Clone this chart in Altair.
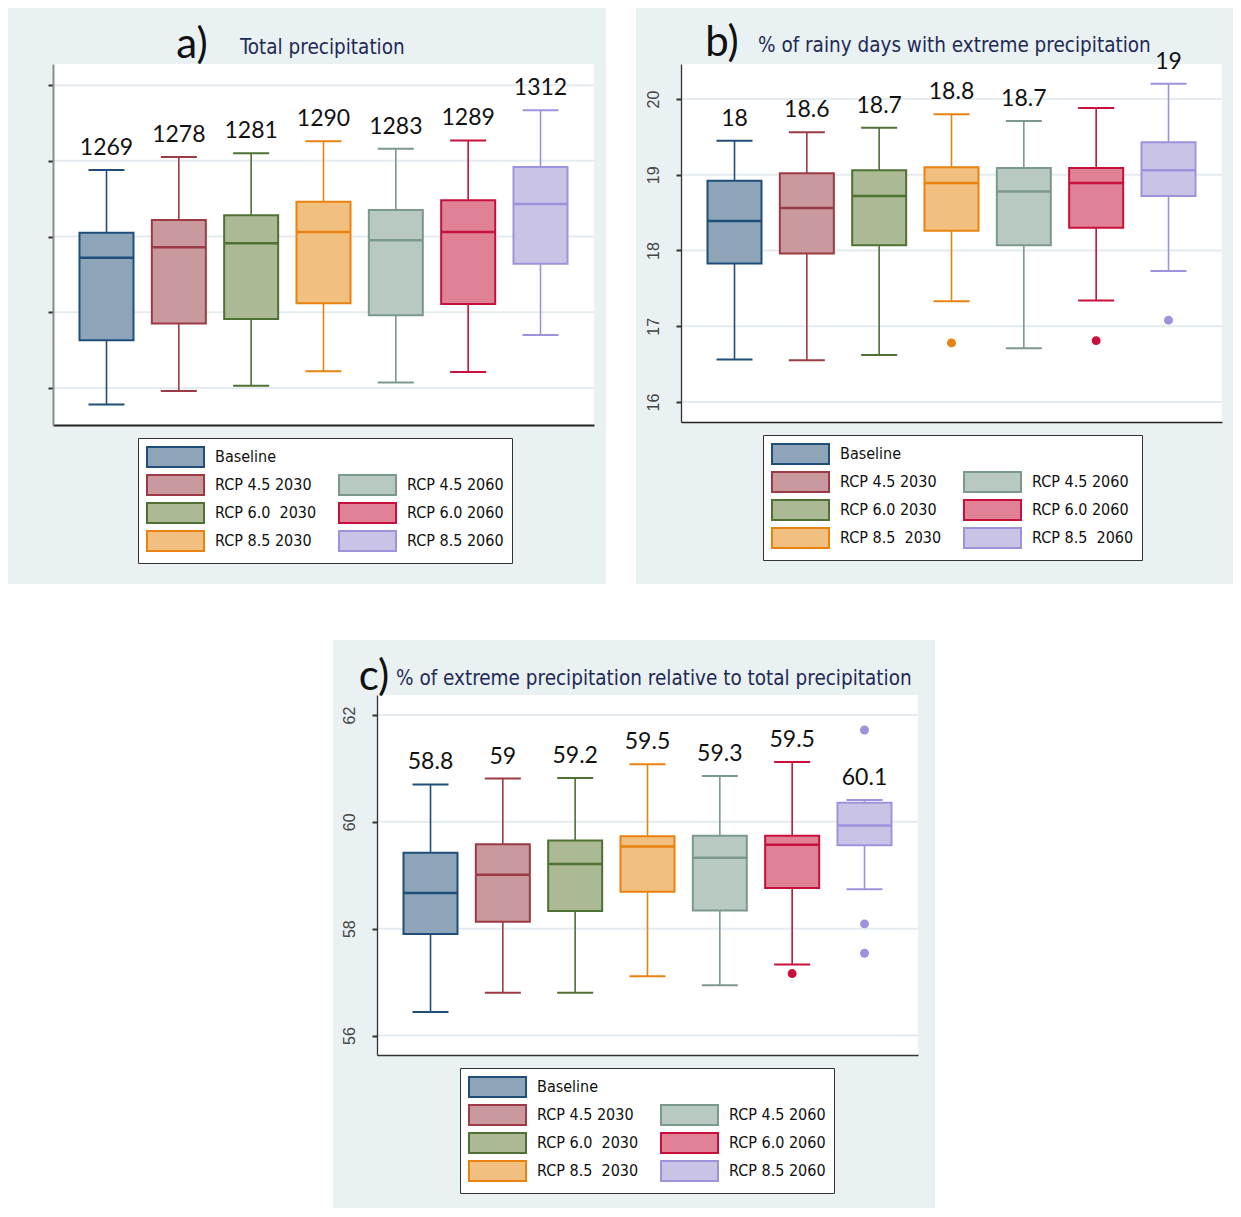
import altair as alt
import pandas as pd

# ---------------- data ----------------
CATEGORIES = ["Baseline", "RCP 4.5 2030", "RCP 6.0 2030", "RCP 8.5 2030",
              "RCP 4.5 2060", "RCP 6.0 2060", "RCP 8.5 2060"]
FILLS = ["#8da4b9", "#c9999d", "#abba94", "#f1bf80", "#b8c9c1", "#e18196", "#c9c4e6"]
STROKES = ["#1f4e79", "#9c3b45", "#4f7133", "#e9820e", "#7c998d", "#c8103c", "#9d93dc"]
# legend order (two columns, filled column by column; None = empty slot)
LEGEND_ORDER = [0, 1, 2, 3, None, 4, 5, 6]

NB = "\u00a0"
A_KEYS = ["Baseline", "RCP 4.5 2030", "RCP 6.0" + NB + " 2030", "RCP 8.5 2030",
          "RCP 4.5 2060", "RCP 6.0 2060", "RCP 8.5 2060"]
B_KEYS = ["Baseline", "RCP 4.5 2030", "RCP 6.0 2030", "RCP 8.5" + NB + " 2030",
          "RCP 4.5 2060", "RCP 6.0 2060", "RCP 8.5" + NB + " 2060"]
C_KEYS = ["Baseline", "RCP 4.5 2030", "RCP 6.0" + NB + " 2030", "RCP 8.5" + NB + " 2030",
          "RCP 4.5 2060", "RCP 6.0 2060", "RCP 8.5 2060"]

# a) Total precipitation
A_LO = [1078, 1096, 1103, 1122, 1107, 1121, 1170]
A_Q1 = [1163, 1185, 1191, 1212, 1196, 1211, 1264]
A_MED = [1272, 1286, 1291, 1306, 1295, 1306, 1343]
A_Q3 = [1305, 1322, 1328, 1346, 1335, 1348, 1392]
A_HI = [1388, 1405, 1410, 1426, 1416, 1427, 1467]
A_MEAN = ["1269", "1278", "1281", "1290", "1283", "1289", "1312"]
A_OUT_IDX = []
A_OUT_VAL = []
A_TICKS = [1100, 1200, 1300, 1400, 1500]

# b) % of rainy days with extreme precipitation
B_LO = [16.56, 16.55, 16.62, 17.33, 16.71, 17.34, 17.73]
B_Q1 = [17.83, 17.96, 18.07, 18.26, 18.07, 18.30, 18.72]
B_MED = [18.39, 18.56, 18.72, 18.89, 18.78, 18.89, 19.06]
B_Q3 = [18.92, 19.02, 19.06, 19.10, 19.09, 19.09, 19.43]
B_HI = [19.45, 19.56, 19.62, 19.80, 19.71, 19.88, 20.20]
B_MEAN = ["18", "18.6", "18.7", "18.8", "18.7", "", "19"]
B_OUT_IDX = [3, 5, 6]
B_OUT_VAL = [16.78, 16.81, 17.08]
B_TICKS = [16, 17, 18, 19, 20]

# c) % of extreme precipitation relative to total precipitation
C_LO = [56.44, 56.80, 56.80, 57.11, 56.94, 57.33, 58.74]
C_Q1 = [57.90, 58.13, 58.33, 58.69, 58.34, 58.76, 59.56]
C_MED = [58.67, 59.01, 59.21, 59.54, 59.33, 59.57, 59.93]
C_Q3 = [59.42, 59.58, 59.65, 59.73, 59.74, 59.74, 60.36]
C_HI = [60.70, 60.81, 60.82, 61.08, 60.86, 61.12, 60.41]
C_MEAN = ["58.8", "59", "59.2", "59.5", "59.3", "59.5", "60.1"]
C_OUT_IDX = [5, 6, 6, 6]
C_OUT_VAL = [57.16, 61.72, 58.09, 57.54]
C_TICKS = [56, 58, 60, 62]

# ---------------- style ----------------
BG = "#e9f1f3"
GRID = "#e4ecef"
TITLE_COLOR = "#1f2a55"
FONT_NARROW = "Liberation Sans Narrow, DejaVu Sans Condensed, Arial Narrow, sans-serif"
FONT_NUM = "Lato, Open Sans, sans-serif"
FONT_AXIS = "Liberation Sans, Arial, sans-serif"
PW = 541
LEGEND_PATH = "M-1,-1H4.7V1H-1Z"


def panel(keys, lo, q1, med, q3, hi, means, out_idx, out_val, ticks, domain,
          height, show_labels, ydom_color, ydom_width, xdom_color, xdom_width,
          bg_box, letter, letter_xy, text, text_xy, legend_xy):
    df = pd.DataFrame({"key": keys, "lo": lo, "q1": q1, "med": med,
                       "q3": q3, "hi": hi, "mean": means})
    out_df = pd.DataFrame({"key": [keys[i] for i in out_idx], "val": out_val})
    grid_df = pd.DataFrame({"tick": ticks})
    one = pd.DataFrame({"a": [0]})

    yscale = alt.Scale(domain=domain, nice=False, zero=False)
    yaxis = alt.Axis(values=ticks, grid=False, labels=show_labels, ticks=True,
                     tickSize=5, tickWidth=2, tickColor="#333",
                     domainColor=ydom_color, domainWidth=ydom_width,
                     labelAngle=270, labelAlign="center", labelBaseline="alphabetic",
                     labelPadding=18, labelFont=FONT_AXIS, labelFontSize=16,
                     labelColor="#444", title=None, zindex=1)
    xscale = alt.Scale(type="point", domain=keys, padding=0.7396)
    xaxis = alt.Axis(labels=False, ticks=False, grid=False, domainColor=xdom_color,
                     domainWidth=xdom_width, title=None, zindex=1)

    def Y(f):
        return alt.Y(f, type="quantitative", scale=yscale, axis=yaxis, title=None)

    def X():
        return alt.X("key:N", scale=xscale, axis=xaxis, title=None)

    color = alt.Color("key:N", scale=alt.Scale(domain=keys, range=STROKES), legend=None)

    leg_domain = [keys[i] if i is not None else " " for i in LEGEND_ORDER]
    fill_range = [FILLS[i] if i is not None else "transparent" for i in LEGEND_ORDER]
    stroke_range = [STROKES[i] if i is not None else "transparent" for i in LEGEND_ORDER]
    legend = alt.Legend(orient="none", legendX=legend_xy[0], legendY=legend_xy[1],
                        columns=2, direction="vertical", title=None,
                        symbolType=LEGEND_PATH, symbolSize=400, symbolStrokeWidth=2,
                        symbolOpacity=1, labelFont=FONT_NARROW, labelFontSize=16,
                        labelColor="#111", labelOffset=47, labelLimit=0,
                        rowPadding=0, columnPadding=18, padding=8,
                        strokeColor="#333", fillColor="white")

    x0, x1, y0, y1 = bg_box
    layers = []
    layers.append(alt.Chart(one).mark_rect(color=BG).encode(
        x=alt.value(x0), x2=alt.value(x1), y=alt.value(y0), y2=alt.value(y1)))
    layers.append(alt.Chart(one).mark_rect(color="white").encode(
        x=alt.value(0), x2=alt.value(PW), y=alt.value(0), y2=alt.value(height)))
    layers.append(alt.Chart(grid_df).mark_rule(color=GRID, strokeWidth=2).encode(
        x=alt.value(0), x2=alt.value(PW), y=Y("tick")))
    base = alt.Chart(df)
    layers.append(base.mark_rule(strokeWidth=1.6).encode(
        x=X(), y=Y("lo"), y2="hi", color=color))
    layers.append(base.mark_bar(size=54, strokeWidth=2).encode(
        x=X(), y=Y("q1"), y2="q3",
        fill=alt.Fill("key:N", scale=alt.Scale(domain=leg_domain, range=fill_range), legend=legend),
        stroke=alt.Stroke("key:N", scale=alt.Scale(domain=leg_domain, range=stroke_range), legend=legend)))
    layers.append(base.mark_tick(size=54, thickness=2.5, opacity=1).encode(
        x=X(), y=Y("med"), color=color))
    layers.append(base.mark_tick(size=36, thickness=2, opacity=1).encode(
        x=X(), y=Y("lo"), color=color))
    layers.append(base.mark_tick(size=36, thickness=2, opacity=1).encode(
        x=X(), y=Y("hi"), color=color))
    if len(out_val):
        layers.append(alt.Chart(out_df).mark_circle(size=80, opacity=1).encode(
            x=X(), y=Y("val"), color=color))
    layers.append(base.mark_text(dy=-22, fontSize=23, font=FONT_NUM, color="#111",
                                 baseline="middle", align="center").encode(
        x=X(), y=Y("hi"), text="mean:N"))
    layers.append(alt.Chart(one).mark_text(fontSize=42, font=FONT_NUM, color="#111",
                                           align="center", baseline="alphabetic").encode(
        x=alt.value(letter_xy[0]), y=alt.value(letter_xy[1]), text=alt.value(letter)))
    layers.append(alt.Chart(one).mark_text(fontSize=20.5, font=FONT_NARROW, color=TITLE_COLOR,
                                           align="left", baseline="alphabetic").encode(
        x=alt.value(text_xy[0]), y=alt.value(text_xy[1]), text=alt.value(text)))
    return alt.layer(*layers).properties(width=PW, height=height)


pa = panel(A_KEYS, A_LO, A_Q1, A_MED, A_Q3, A_HI, A_MEAN, A_OUT_IDX, A_OUT_VAL,
           A_TICKS, [1051, 1528], 361, False, "#8c8c8c", 2, "#222", 2,
           (-45, 553, -56, 520), "a)", (139, -6), "Total precipitation", (187, -10),
           (85, 374))
pb = panel(B_KEYS, B_LO, B_Q1, B_MED, B_Q3, B_HI, B_MEAN, B_OUT_IDX, B_OUT_VAL,
           B_TICKS, [15.736, 20.462], 358, True, "#333", 1.3, "#222", 1.5,
           (-45, 552, -56, 520), "b)", (41, -8), "% of rainy days with extreme precipitation",
           (77, -12), (82, 371))
pc = panel(C_KEYS, C_LO, C_Q1, C_MED, C_Q3, C_HI, C_MEAN, C_OUT_IDX, C_OUT_VAL,
           C_TICKS, [55.635, 62.375], 360, True, "#333", 1.3, "#333", 1.5,
           (-44, 558, -55, 513), "c)", (-3, -5),
           "% of extreme precipitation relative to total precipitation", (19, -10),
           (83, 373))

# blank white spacer that places panel c a little right of centre, as in the original
SPACER_W = 280
spacer = alt.Chart(pd.DataFrame({"a": [0]})).mark_rect(color="white").encode(
    x=alt.value(0), x2=alt.value(SPACER_W), y=alt.value(0), y2=alt.value(1)
).properties(width=SPACER_W, height=1)

ind = dict(fill="independent", stroke="independent", color="independent")
top = alt.hconcat(pa, pb, spacing=30).resolve_scale(**ind).resolve_legend(
    fill="independent", stroke="independent")
bottom = alt.hconcat(spacer, pc, spacing=0).resolve_scale(**ind).resolve_legend(
    fill="independent", stroke="independent")
chart = alt.vconcat(top, bottom, spacing=56).resolve_scale(**ind).resolve_legend(
    fill="independent", stroke="independent").properties(
    padding=0, background="white").configure_view(stroke=None)

chart.save("out.html", embed_options={"renderer": "svg", "actions": False})
